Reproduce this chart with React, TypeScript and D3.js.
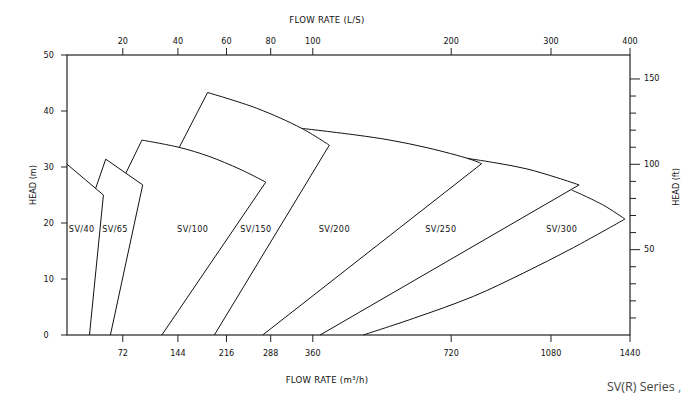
import React from 'react';
import * as d3 from 'd3';

// ---------- axis values ----------
const flowTicksM3h = [72, 144, 216, 288, 360, 720, 1080, 1440];
const flowTicksLs = [20, 40, 60, 80, 100, 200, 300, 400];
const headTicksM = [0, 10, 20, 30, 40, 50];
const headTicksFt = [10, 20, 30, 40, 50, 60, 70, 80, 90, 100, 110, 120, 130, 140, 150];
const headLabelsFt = [50, 100, 150];

// the flow axis is drawn piece-wise: breakpoints (m3/h) and their share of the plot width
const flowBreaks = [0, 72, 144, 216, 288, 360, 720, 1080, 1440];
const flowBreakShare = [0, 0.0991, 0.197, 0.2833, 0.3618, 0.4366, 0.6824, 0.8597, 1];

// ---------- pump ranges (flow m3/h, head m) ----------
type P = [number, number];
interface Pump { name: string; left: P[]; head: P[]; right: P[]; headCurved: boolean; rightCurved: boolean; }

const sv40Head: P[] = [[0, 30.5], [47, 25]];
const sv40Right: P[] = [[47, 25], [29, 0]];

const sv65Left: P[] = [[37, 26.2], [50, 31.4]];
const sv65Head: P[] = [[50, 31.4], [98, 26.8]];
const sv65Right: P[] = [[98, 26.8], [56, 0]];

const sv100Left: P[] = [[76, 28.9], [97, 34.8]];
const sv100Head: P[] = [[97, 34.8], [146, 33.5], [190, 31.9], [238, 29.6], [280, 27.3]];
const sv100Right: P[] = [[280, 27.3], [123, 0]];

const sv150Left: P[] = [[146, 33.5], [188, 43.3]];
const sv150Head: P[] = [[188, 43.3], [265, 40.5], [341, 36.9], [403, 33.9]];
const sv150Right: P[] = [[403, 33.9], [198, 0]];

const sv200Head: P[] = [[341, 36.9], [474, 35.7], [561, 34.8], [660, 33.4], [788, 31.4], [830, 30.6]];
const sv200Right: P[] = [[830, 30.6], [275, 0]];

const sv250Head: P[] = [[777, 31.55], [885, 30.7], [993, 29.66], [1107, 28.1], [1208, 26.8]];
const sv250Right: P[] = [[1208, 26.8], [379, 0]];

const sv300Head: P[] = [[1174, 25.9], [1318, 23.2], [1417, 20.7]];
const sv300Right: P[] = [[1417, 20.7], [1182, 15.6], [980, 11.05], [800, 6.9], [621, 2.95], [491, 0]];

const pumps: Pump[] = [
  { name: 'SV/40', left: [], head: sv40Head, right: sv40Right, headCurved: false, rightCurved: false },
  { name: 'SV/65', left: sv65Left, head: sv65Head, right: sv65Right, headCurved: false, rightCurved: false },
  { name: 'SV/100', left: sv100Left, head: sv100Head, right: sv100Right, headCurved: true, rightCurved: false },
  { name: 'SV/150', left: sv150Left, head: sv150Head, right: sv150Right, headCurved: true, rightCurved: false },
  { name: 'SV/200', left: [], head: sv200Head, right: sv200Right, headCurved: true, rightCurved: false },
  { name: 'SV/250', left: [], head: sv250Head, right: sv250Right, headCurved: true, rightCurved: false },
  { name: 'SV/300', left: [], head: sv300Head, right: sv300Right, headCurved: true, rightCurved: true },
];

const pumpNames = ['SV/40', 'SV/65', 'SV/100', 'SV/150', 'SV/200', 'SV/250', 'SV/300'];
const labelFlow = [19, 62, 166, 264, 416, 693, 1129];
const labelHead = [18.8, 18.8, 18.8, 18.8, 18.8, 18.8, 18.8];

// ---------- layout ----------
const W = 682, H = 401;
const M = { left: 67, right: 52, top: 55, bottom: 66 };
const FONT = '"DejaVu Sans Condensed", "DejaVu Sans", sans-serif';

export default function App() {
  const x0 = M.left, x1 = W - M.right, y0 = H - M.bottom, y1 = M.top;
  const x = d3.scaleLinear().domain(flowBreaks).range(flowBreakShare.map(s => x0 + s * (x1 - x0)));
  const y = d3.scaleLinear().domain([0, 50]).range([y0, y1]);
  const yFt = d3.scaleLinear().domain([0, 50 / 0.3048]).range([y0, y1]);

  const straight = d3.line<P>().x(d => x(d[0])).y(d => y(d[1]));
  const curved = d3.line<P>().x(d => x(d[0])).y(d => y(d[1])).curve(d3.curveCatmullRom.alpha(0.5));

  const txt = { fontFamily: FONT, fontSize: 9, fill: '#111' } as const;
  const titleX = 327;

  return (
    <svg width={W} height={H} style={{ position: 'absolute', left: 0, top: 0, background: '#fff' }}>
      <rect x={0} y={0} width={W} height={H} fill="#fff" />
      {/* frame */}
      <rect x={x0} y={y1} width={x1 - x0} height={y0 - y1} fill="none" stroke="#222" strokeWidth={1.2} />

      {/* pump outlines */}
      <g fill="none" stroke="#111" strokeWidth={1}>
        {pumps.map(p => (
          <g key={p.name}>
            {p.left.length > 0 && <path d={straight(p.left) || ''} />}
            <path d={(p.headCurved ? curved : straight)(p.head) || ''} />
            <path d={(p.rightCurved ? curved : straight)(p.right) || ''} />
          </g>
        ))}
      </g>
      {pumpNames.map((n, i) => (
        <text key={n} x={x(labelFlow[i])} y={y(labelHead[i])} textAnchor="middle" dominantBaseline="middle" {...txt} letterSpacing={0.4}>{n}</text>
      ))}

      {/* bottom axis m3/h */}
      {flowTicksM3h.map(t => (
        <g key={'b' + t}>
          <line x1={x(t)} x2={x(t)} y1={y0} y2={y0 + 7} stroke="#222" strokeWidth={1} />
          <text x={x(t)} y={y0 + 21} textAnchor="middle" {...txt}>{t}</text>
        </g>
      ))}
      <text x={titleX} y={H - 18} textAnchor="middle" {...txt} fontSize={9.5} letterSpacing={0.3}>FLOW RATE (m³/h)</text>

      {/* top axis L/s */}
      {flowTicksLs.map(t => (
        <g key={'t' + t}>
          <line x1={x(t * 3.6)} x2={x(t * 3.6)} y1={y1} y2={y1 - 7} stroke="#222" strokeWidth={1} />
          <text x={x(t * 3.6)} y={y1 - 11} textAnchor="middle" {...txt}>{t}</text>
        </g>
      ))}
      <text x={titleX} y={23} textAnchor="middle" {...txt} fontSize={9.5} letterSpacing={0.3}>FLOW RATE (L/S)</text>

      {/* left axis m */}
      {headTicksM.map(t => (
        <g key={'l' + t}>
          <line x1={x0 - 6} x2={x0} y1={y(t)} y2={y(t)} stroke="#222" strokeWidth={1} />
          <text x={43.5} y={y(t)} dominantBaseline="middle" {...txt}>{t}</text>
        </g>
      ))}
      <text transform={`translate(36,185) rotate(-90)`} textAnchor="middle" {...txt}>HEAD (m)</text>

      {/* right axis ft */}
      {headTicksFt.map(t => (
        <line key={'r' + t} x1={x1} x2={x1 + (headLabelsFt.includes(t) ? 10 : 6)} y1={yFt(t)} y2={yFt(t)} stroke="#222" strokeWidth={1} />
      ))}
      {headLabelsFt.map(t => (
        <text key={'rl' + t} x={x1 + 14} y={yFt(t)} dominantBaseline="middle" {...txt}>{t}</text>
      ))}
      <text transform={`translate(679,187) rotate(-90)`} textAnchor="middle" {...txt}>HEAD (ft)</text>

      <text x={607} y={391} fontFamily='"Open Sans", sans-serif' fontSize={12.5} fill="#444">SV(R) Series <tspan fill="#4a78b0">,</tspan></text>
    </svg>
  );
}
